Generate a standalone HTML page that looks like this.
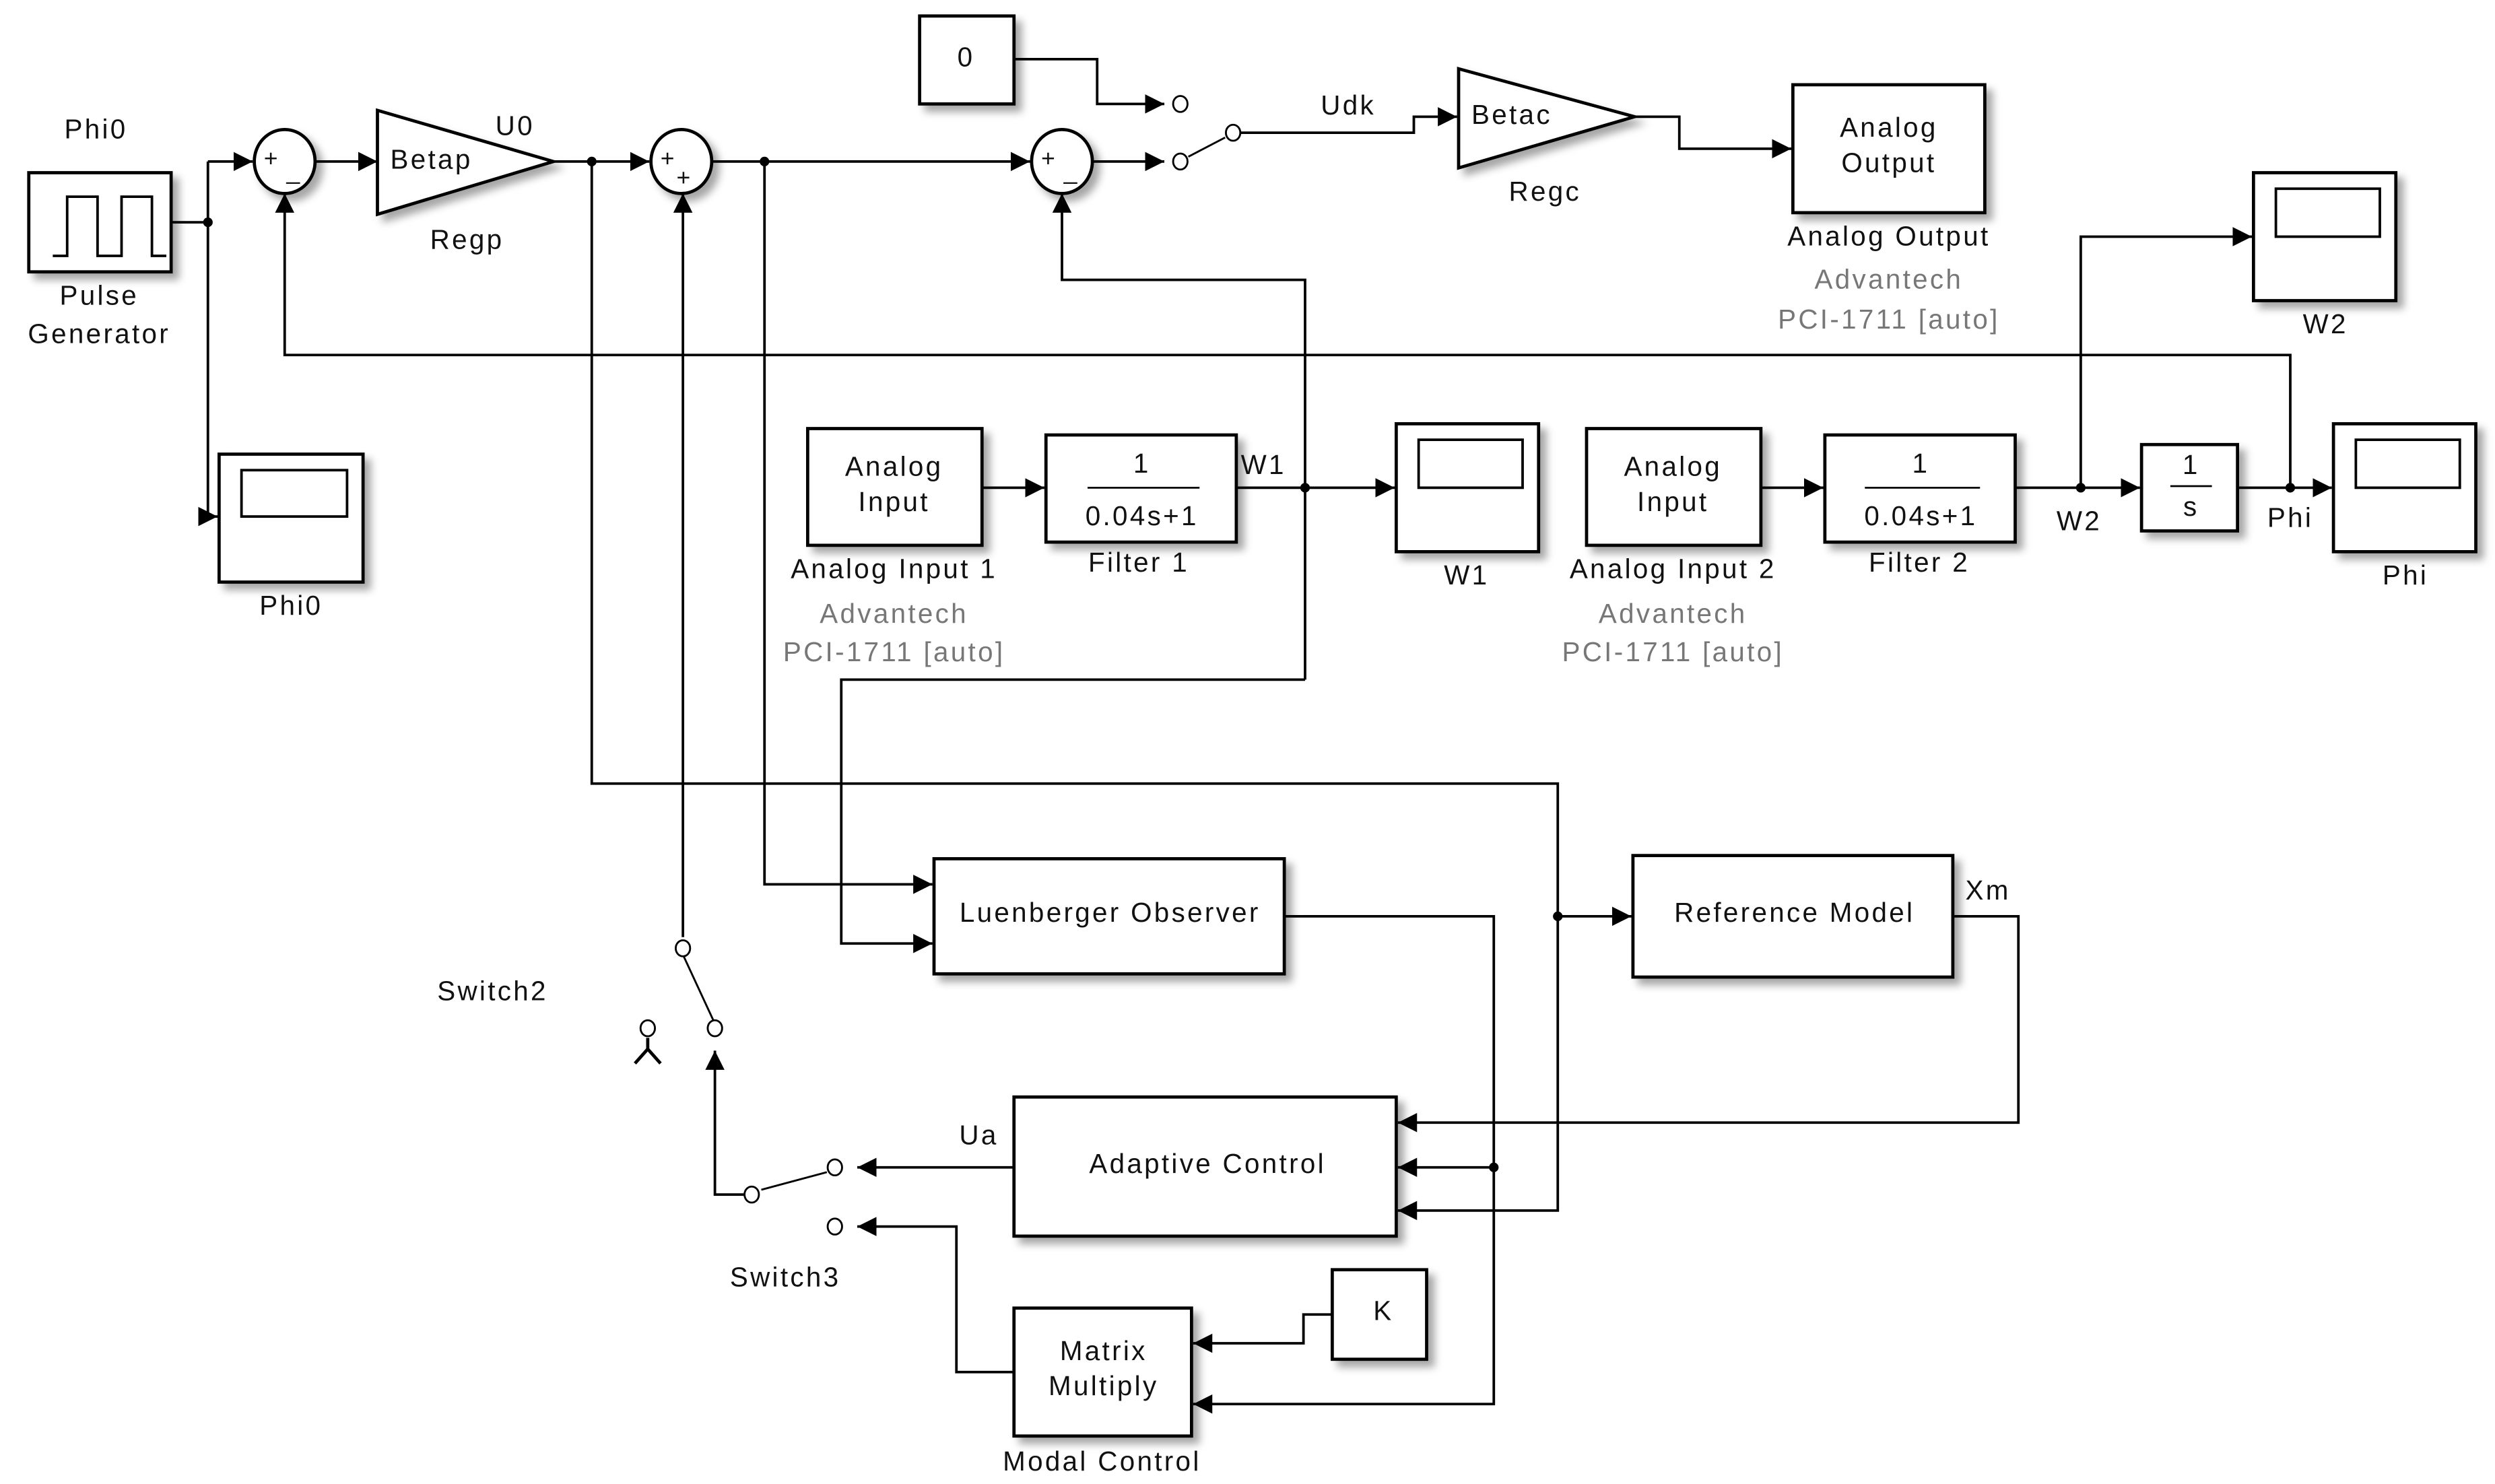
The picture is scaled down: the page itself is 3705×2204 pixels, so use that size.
<!DOCTYPE html>
<html><head><meta charset="utf-8"><style>
html,body{margin:0;padding:0;background:#fff;}
svg{display:block;}
text{font-family:"Liberation Sans",sans-serif;font-size:17px;letter-spacing:1.4px;fill:#111;text-anchor:middle;dominant-baseline:middle;}
.g{fill:#777;}
.l{text-anchor:start;}
</style></head><body>
<svg width="3705" height="2204" viewBox="0 0 1560 928" xmlns="http://www.w3.org/2000/svg">
<defs>
<marker id="a" markerUnits="userSpaceOnUse" markerWidth="14" markerHeight="14" refX="12" refY="7" orient="auto"><path d="M0,1 L12,7 L0,13 z" fill="#000"/></marker>
<filter id="s" x="-10%" y="-10%" width="130%" height="140%"><feDropShadow dx="4" dy="4" stdDeviation="2.5" flood-color="#000" flood-opacity="0.35"/></filter>
</defs>
<g fill="none" stroke="#000" stroke-width="1.6">
<path d="M107,139 H130"/><path d="M130,101 V323 H136" marker-end="url(#a)"/><path d="M130,101 H158" marker-end="url(#a)"/>
<path d="M197,101 H236" marker-end="url(#a)"/>
<path d="M346,101 H406" marker-end="url(#a)"/>
<path d="M445,101 H644" marker-end="url(#a)"/>
<path d="M683,101 H728" marker-end="url(#a)"/>
<path d="M634,37 H686 V65 H728" marker-end="url(#a)"/>
<path d="M771,83 H884 V73 H911" marker-end="url(#a)"/>
<path d="M1022,73 H1050 V93 H1120" marker-end="url(#a)"/>
<path d="M1432,305 V222 H178 V121" marker-end="url(#a)"/>
<path d="M816,425 V175 H664 V121" marker-end="url(#a)"/>
<path d="M427,586 V121" marker-end="url(#a)"/>
<path d="M370,101 V490 H974 V757 H874" marker-end="url(#a)"/>
<path d="M974,573 H1020" marker-end="url(#a)"/>
<path d="M478,101 V553 H583" marker-end="url(#a)"/>
<path d="M816,425 H526 V590 H583" marker-end="url(#a)"/>
<path d="M614,305 H653" marker-end="url(#a)"/>
<path d="M773,305 H872" marker-end="url(#a)"/>
<path d="M1101,305 H1140" marker-end="url(#a)"/>
<path d="M1260,305 H1338" marker-end="url(#a)"/>
<path d="M1301,305 V148 H1408" marker-end="url(#a)"/>
<path d="M1399,305 H1458" marker-end="url(#a)"/>
<path d="M803,573 H934 V878 H746" marker-end="url(#a)"/>
<path d="M934,730 H874" marker-end="url(#a)"/>
<path d="M1221,573 H1262 V702 H874" marker-end="url(#a)"/>
<path d="M634,730 H536" marker-end="url(#a)"/>
<path d="M634,858 H598 V767 H536" marker-end="url(#a)"/>
<path d="M833,822 H815 V840 H746" marker-end="url(#a)"/>
<path d="M465,747 H447 V657" marker-end="url(#a)"/>
<line x1="427" y1="597" x2="446" y2="638" stroke-width="1.2"/>
<line x1="476" y1="744" x2="517" y2="733" stroke-width="1.2"/>
<line x1="743" y1="98" x2="766" y2="86" stroke-width="1.2"/>
<path d="M405,649 V656 M397,665 L405,656 L413,665" stroke-width="2"/>
</g>
<g fill="#fff" stroke="#000" stroke-width="1.2">
<ellipse cx="427" cy="593" rx="4.5" ry="5"/><ellipse cx="447" cy="643" rx="4.5" ry="5"/><ellipse cx="405" cy="643" rx="4.5" ry="5"/>
<ellipse cx="470" cy="747" rx="4.5" ry="5"/><ellipse cx="522" cy="730" rx="4.5" ry="5"/><ellipse cx="522" cy="767" rx="4.5" ry="5"/>
<ellipse cx="738" cy="65" rx="4.5" ry="5"/><ellipse cx="738" cy="101" rx="4.5" ry="5"/><ellipse cx="771" cy="83" rx="4.5" ry="5"/>
</g>
<g fill="#000">
<circle cx="130" cy="139" r="3"/><circle cx="370" cy="101" r="3"/><circle cx="478" cy="101" r="3"/>
<circle cx="816" cy="305" r="3"/><circle cx="1301" cy="305" r="3"/><circle cx="1432" cy="305" r="3"/>
<circle cx="974" cy="573" r="3"/><circle cx="934" cy="730" r="3"/>
</g>
<g fill="#fff" stroke="#000" stroke-width="2" filter="url(#s)">
<rect x="18" y="108" width="89" height="62"/>
<rect x="137" y="284" width="90" height="80"/>
<ellipse cx="178" cy="101" rx="19" ry="20"/>
<polygon points="236,69 346,101 236,134"/>
<ellipse cx="426" cy="101" rx="19" ry="20"/>
<ellipse cx="664" cy="101" rx="19" ry="20"/>
<rect x="575" y="10" width="59" height="55"/>
<polygon points="912,43 1022,73 912,105"/>
<rect x="1121" y="53" width="120" height="80"/>
<rect x="1409" y="108" width="89" height="80"/>
<rect x="505" y="268" width="109" height="73"/>
<rect x="654" y="272" width="119" height="67"/>
<rect x="873" y="265" width="89" height="80"/>
<rect x="992" y="268" width="109" height="73"/>
<rect x="1141" y="272" width="119" height="67"/>
<rect x="1339" y="278" width="60" height="54"/>
<rect x="1459" y="265" width="89" height="80"/>
<rect x="584" y="537" width="219" height="72"/>
<rect x="1021" y="535" width="200" height="76"/>
<rect x="634" y="686" width="239" height="87"/>
<rect x="634" y="818" width="111" height="80"/>
<rect x="833" y="794" width="59" height="56"/>
</g>
<g fill="none" stroke="#000" stroke-width="1.6">
<path d="M33,160 H42 V123 H61 V160 H76 V123 H95 V160 H104"/>
<rect x="151" y="294" width="66" height="29"/>
<rect x="887" y="275" width="65" height="30"/>
<rect x="1473" y="275" width="65" height="30"/>
<rect x="1423" y="118" width="65" height="30"/>
<line x1="680" y1="305" x2="750" y2="305" stroke-width="1.2"/>
<line x1="1166" y1="305" x2="1238" y2="305" stroke-width="1.2"/>
<line x1="1357" y1="304" x2="1383" y2="304" stroke-width="1.2"/>
</g>
<text x="60" y="82">Phi0</text>
<text x="62" y="186">Pulse</text><text x="62" y="210">Generator</text>
<text x="182" y="380">Phi0</text>
<text x="170" y="100" style="font-size:15px">+</text><text x="184" y="108" style="font-size:15px">_</text>
<text x="418" y="100" style="font-size:15px">+</text><text x="428" y="112" style="font-size:15px">+</text>
<text x="656" y="100" style="font-size:15px">+</text><text x="670" y="108" style="font-size:15px">_</text>
<text x="244" y="101" class="l">Betap</text>
<text x="322" y="80">U0</text>
<text x="292" y="151">Regp</text>
<text x="604" y="37">0</text>
<text x="843" y="67">Udk</text>
<text x="920" y="73" class="l">Betac</text>
<text x="966" y="121">Regc</text>
<text x="1181" y="81">Analog</text><text x="1181" y="103">Output</text>
<text x="1181" y="149">Analog Output</text>
<text x="1181" y="176" class="g">Advantech</text>
<text x="1181" y="201" class="g">PCI-1711 [auto]</text>
<text x="1454" y="204">W2</text>
<text x="559" y="293">Analog</text><text x="559" y="315">Input</text>
<text x="559" y="357">Analog Input 1</text>
<text x="559" y="385" class="g">Advantech</text>
<text x="559" y="409" class="g">PCI-1711 [auto]</text>
<text x="714" y="291">1</text><text x="714" y="324">0.04s+1</text>
<text x="712" y="353">Filter 1</text>
<text x="790" y="292">W1</text>
<text x="917" y="361">W1</text>
<text x="1046" y="293">Analog</text><text x="1046" y="315">Input</text>
<text x="1046" y="357">Analog Input 2</text>
<text x="1046" y="385" class="g">Advantech</text>
<text x="1046" y="409" class="g">PCI-1711 [auto]</text>
<text x="1201" y="291">1</text><text x="1201" y="324">0.04s+1</text>
<text x="1200" y="353">Filter 2</text>
<text x="1300" y="327">W2</text>
<text x="1370" y="292">1</text><text x="1370" y="318">s</text>
<text x="1432" y="325">Phi</text>
<text x="1504" y="361">Phi</text>
<text x="694" y="572">Luenberger Observer</text>
<text x="1122" y="572">Reference Model</text>
<text x="1243" y="558">Xm</text>
<text x="308" y="621">Switch2</text>
<text x="612" y="711">Ua</text>
<text x="755" y="729">Adaptive Control</text>
<text x="491" y="800">Switch3</text>
<text x="690" y="846">Matrix</text><text x="690" y="868">Multiply</text>
<text x="689" y="915">Modal Control</text>
<text x="865" y="821">K</text>
</svg>
</body></html>
